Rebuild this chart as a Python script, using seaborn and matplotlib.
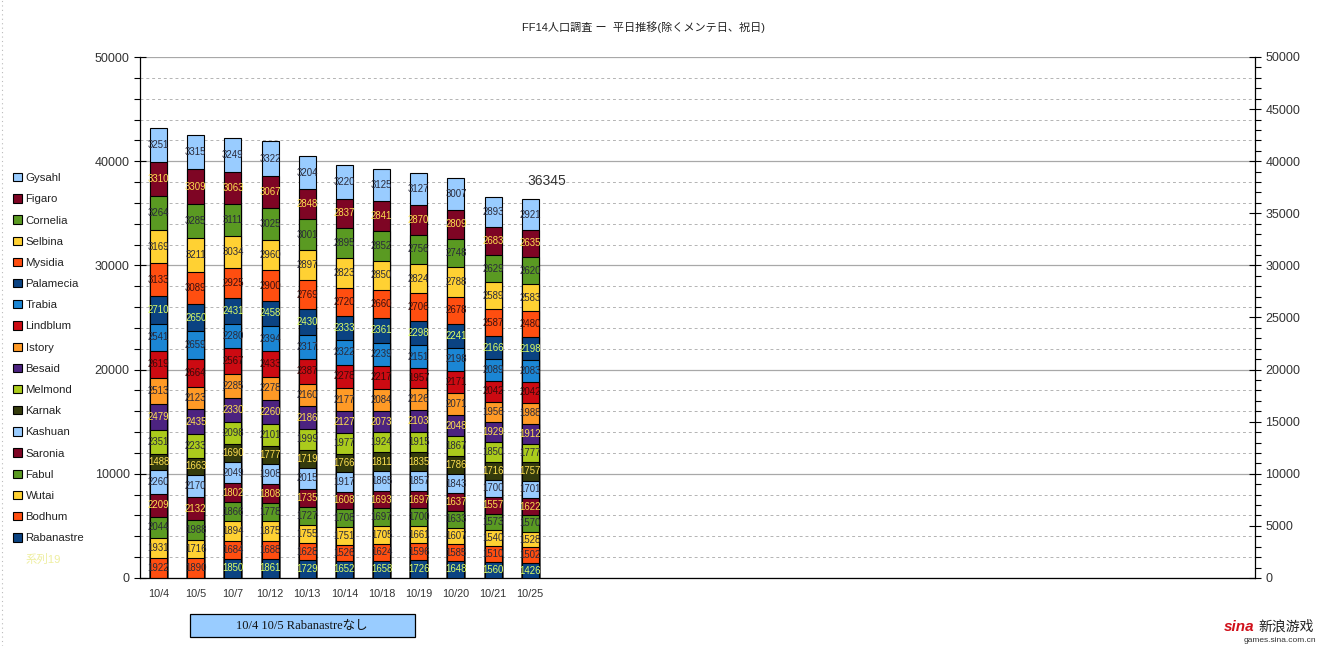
import numpy as np
import pandas as pd
import matplotlib
matplotlib.use("Agg")
import matplotlib.pyplot as plt
from matplotlib.patches import Patch, Rectangle
from matplotlib.lines import Line2D
from matplotlib.ticker import MultipleLocator, FixedLocator
import seaborn as sns

# ---------------- data ----------------
dates = ["10/4", "10/5", "10/7", "10/12", "10/13", "10/14", "10/18", "10/19", "10/20", "10/21", "10/25"]

# stack order: bottom -> top
servers = ["Rabanastre", "Bodhum", "Wutai", "Fabul", "Saronia", "Kashuan", "Karnak", "Melmond",
           "Besaid", "Istory", "Lindblum", "Trabia", "Palamecia", "Mysidia", "Selbina", "Cornelia",
           "Figaro", "Gysahl"]

rabanastre = [0, 0, 1850, 1861, 1729, 1652, 1658, 1726, 1648, 1560, 1426]
bodhum     = [1922, 1890, 1684, 1688, 1628, 1526, 1624, 1596, 1585, 1510, 1502]
wutai      = [1931, 1716, 1894, 1875, 1755, 1751, 1705, 1661, 1607, 1540, 1528]
fabul      = [2044, 1988, 1866, 1778, 1727, 1708, 1697, 1700, 1633, 1573, 1570]
saronia    = [2209, 2132, 1802, 1808, 1735, 1608, 1693, 1697, 1637, 1557, 1622]
kashuan    = [2260, 2170, 2049, 1908, 2015, 1917, 1865, 1857, 1843, 1700, 1701]
karnak     = [1488, 1663, 1690, 1777, 1719, 1766, 1811, 1835, 1786, 1716, 1757]
melmond    = [2351, 2233, 2098, 2101, 1999, 1977, 1924, 1915, 1867, 1850, 1777]
besaid     = [2479, 2435, 2330, 2260, 2186, 2127, 2073, 2103, 2048, 1929, 1912]
istory     = [2513, 2123, 2285, 2278, 2160, 2177, 2084, 2126, 2071, 1956, 1988]
lindblum   = [2619, 2664, 2567, 2433, 2387, 2278, 2217, 1957, 2171, 2042, 2042]
trabia     = [2541, 2659, 2280, 2394, 2317, 2322, 2239, 2151, 2198, 2089, 2083]
palamecia  = [2710, 2650, 2431, 2458, 2430, 2333, 2361, 2298, 2241, 2166, 2198]
mysidia    = [3133, 3089, 2925, 2900, 2769, 2720, 2660, 2706, 2678, 2587, 2480]
selbina    = [3169, 3211, 3034, 2960, 2897, 2823, 2850, 2824, 2788, 2589, 2583]
cornelia   = [3264, 3285, 3111, 3025, 3001, 2895, 2852, 2756, 2748, 2629, 2620]
figaro     = [3310, 3309, 3063, 3067, 2848, 2837, 2841, 2870, 2809, 2683, 2635]
gysahl     = [3251, 3315, 3249, 3322, 3204, 3220, 3125, 3127, 3007, 2893, 2921]

series_values = [rabanastre, bodhum, wutai, fabul, saronia, kashuan, karnak, melmond, besaid,
                 istory, lindblum, trabia, palamecia, mysidia, selbina, cornelia, figaro, gysahl]

title = "FF14人口調査 ー  平日推移(除くメンテ日、祝日)"
note = "10/4 10/5 Rabanastreなし"
total_label_date = "10/25"

# ---------------- styles ----------------
LB, MAR, GRN, YEL = "#99CCFF", "#7E0524", "#5A9A22", "#FFD133"
ORD, DBL, BLU, RED = "#FF4E10", "#0B4382", "#1B86D4", "#CC0A12"
ORG, PUR, YGR, OLV = "#FF9A26", "#4C2380", "#ABCB1C", "#343B0C"
colors = [DBL, ORD, YEL, GRN, MAR, LB, OLV, YGR, PUR, ORG, RED, BLU, DBL, ORD, YEL, GRN, MAR, LB]
DARK, YTXT, GTXT = "#2a2a3a", "#FFE050", "#DDFF66"
label_colors = [GTXT, DARK, DARK, DARK, YTXT, DARK, YTXT, DARK, YTXT, DARK, "#3a0a0a", DARK,
                GTXT, "#3a1010", DARK, DARK, YTXT, DARK]

sns.set_theme(style="white")
plt.rcParams["font.family"] = ["Liberation Sans", "Noto Sans CJK JP", "DejaVu Sans"]

W, H = 1318, 646
fig = plt.figure(figsize=(W / 100, H / 100), dpi=100)
ax = fig.add_axes([140 / W, 1 - 578 / H, (1255 - 140) / W, (578 - 57) / H])

df = pd.DataFrame(series_values, index=servers, columns=dates)
cum = df.cumsum(axis=0)

# draw cumulative bars from top series down so lower layers overwrite
for k in range(len(servers) - 1, -1, -1):
    s = servers[k]
    sns.barplot(x=dates, y=cum.loc[s].values, color=colors[k], saturation=1,
                edgecolor="black", linewidth=0.8, width=0.46, errorbar=None, ax=ax,
                zorder=3 + (len(servers) - k) * 0.01)

# segment labels
for k, s in enumerate(servers):
    for i, d in enumerate(dates):
        v = df.loc[s, d]
        if v > 0:
            ax.text(i, cum.loc[s, d] - v / 2, f"{v}", ha="center", va="center",
                    fontsize=6.9, color=label_colors[k], zorder=10)

# total label (series 19)
ti = dates.index(total_label_date)
tot = int(cum.iloc[-1][total_label_date])
ax.annotate(f"{tot}", xy=(ti, tot), xytext=(-2, 13), textcoords="offset points",
            ha="left", va="center", fontsize=10, color="#333333", zorder=10)

# axes formatting
ax.set_xlim(-0.5, 29.5)
ax.set_ylim(0, 50000)
ax.set_axisbelow(True)
ax.yaxis.set_major_locator(MultipleLocator(10000))
ax.yaxis.set_minor_locator(MultipleLocator(2000))
ax.xaxis.set_minor_locator(FixedLocator(np.arange(-0.5, 30, 1)))
ax.grid(False)
ax.yaxis.grid(True, which="major", color="#A8A8A8", linewidth=0.9, zorder=0)
ax.yaxis.grid(True, which="minor", color="#B4B4B4", linewidth=0.7, linestyle=(0, (3, 3)), zorder=0)
ax.tick_params(axis="x", which="major", length=0, labelsize=7.8, labelcolor="#333333", pad=8)
ax.tick_params(axis="x", which="minor", length=5, direction="out", color="black", width=0.8)
ax.tick_params(axis="y", which="major", length=8, direction="inout", color="black", width=0.8,
               labelsize=9, labelcolor="#333333", left=True)
ax.tick_params(axis="y", which="minor", length=4, direction="out", color="black", width=0.8, left=True)
ax.set_xlabel("")
ax.set_ylabel("")
for sp in ["top", "right"]:
    ax.spines[sp].set_visible(False)
for sp in ["left", "bottom"]:
    ax.spines[sp].set_color("black")
    ax.spines[sp].set_linewidth(0.9)

ax2 = ax.twinx()
ax2.set_ylim(0, 50000)
ax2.yaxis.set_major_locator(MultipleLocator(5000))
ax2.yaxis.set_minor_locator(MultipleLocator(1000))
ax2.grid(False)
ax2.tick_params(axis="y", which="major", length=8, direction="inout", color="black", width=0.8,
                labelsize=9, labelcolor="#333333", right=True)
ax2.tick_params(axis="y", which="minor", length=4, direction="out", color="black", width=0.8, right=True)
for sp in ["top", "left", "bottom"]:
    ax2.spines[sp].set_visible(False)
ax2.spines["right"].set_color("black")
ax2.spines["right"].set_linewidth(0.9)

# title
fig.text(643 / W, 1 - 27 / H, title, ha="center", va="center", fontsize=8, color="#222222")

# legend (top series first)
handles = [Patch(facecolor=colors[k], edgecolor="black", linewidth=0.8, label=servers[k])
           for k in range(len(servers) - 1, -1, -1)]
handles.append(Line2D([], [], linestyle="none", label="系列19"))
leg = fig.legend(handles=handles, loc="upper left", bbox_to_anchor=(13 / W, 1 - 173 / H),
                 frameon=False, fontsize=8.2, handlelength=0.75, handleheight=0.75,
                 handletextpad=0.35, labelspacing=0.97, borderpad=0, borderaxespad=0)
for t in leg.get_texts():
    t.set_color("#222222")
leg.get_texts()[-1].set_color("#EEEEA0")

# note box
fig.patches.append(Rectangle((190 / W, 1 - 637 / H), 225 / W, 23 / H, transform=fig.transFigure,
                             facecolor="#99CCFF", edgecolor="black", linewidth=0.9))
fig.text(302 / W, 1 - 626 / H, note, ha="center", va="center", fontsize=9, color="#111111",
         family=["Liberation Serif", "Noto Sans CJK JP"])

# left dotted border
fig.add_artist(Line2D([2 / W, 2 / W], [0, 1], transform=fig.transFigure, color="#BBBBBB",
                      linewidth=0.8, linestyle=(0, (1, 3))))

# watermark
fig.text(1224 / W, 1 - 627 / H, "sina", ha="left", va="center", fontsize=11, color="#D0101A",
         style="italic", weight="bold")
fig.text(1258 / W, 1 - 627 / H, "新浪游戏", ha="left", va="center", fontsize=10, color="#222222",
         family=["Noto Sans CJK SC"])
fig.text(1316 / W, 1 - 641 / H, "games.sina.com.cn", ha="right", va="center", fontsize=6,
         color="#333333")

fig.savefig("out.png", dpi=100)
